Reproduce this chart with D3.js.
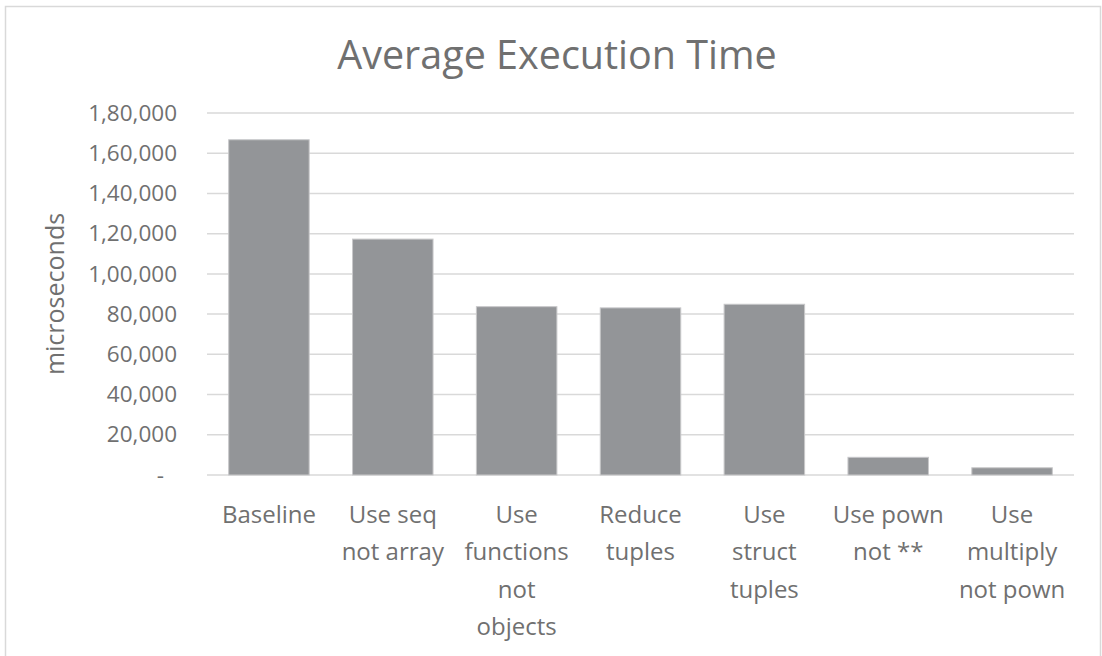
<!DOCTYPE html>
<html>
<head>
<meta charset="utf-8">
<script src="https://cdn.jsdelivr.net/npm/d3@7"></script>
<style>
  body { margin: 0; background: #fff; }
  svg { display: block; }
</style>
</head>
<body>
<div id="chart"></div>
<script>
// Data
var categories = ["Baseline", "Use seq\nnot array", "Use\nfunctions\nnot\nobjects", "Reduce\ntuples",
                  "Use\nstruct\ntuples", "Use pown\nnot **", "Use\nmultiply\nnot pown"];
var values = [166700, 117300, 83700, 83100, 84900, 8800, 3600];
var yTicks = [0, 20000, 40000, 60000, 80000, 100000, 120000, 140000, 160000, 180000];
var yTickLabels = ["-", "20,000", "40,000", "60,000", "80,000", "1,00,000", "1,20,000", "1,40,000", "1,60,000", "1,80,000"];

var W = 1102, H = 656,
    font_family = "'Open Sans', 'Noto Sans', sans-serif",
    text_color = "#707070",
    grid_color = "#d9d9d9",
    bar_color = "#939598";

var margin = {top: 113, right: 28, bottom: 181, left: 207},
    width = W - margin.left - margin.right,
    height = H - margin.top - margin.bottom;

var xScale = d3.scaleBand()
    .domain(categories)
    .range([0, width])
    .paddingInner(0.35)
    .paddingOuter(0.175);

var yScale = d3.scaleLinear()
    .domain([0, 180000])
    .range([height, 0]);

var svg = d3.select("#chart").append("svg")
    .attr("width", W)
    .attr("height", H);

// Outer border
svg.append("rect")
    .attr("x", 5.5).attr("y", 6.5)
    .attr("width", W - 7).attr("height", H)
    .attr("fill", "none")
    .attr("stroke", grid_color)
    .attr("stroke-width", 1.5);

// Title
svg.append("text")
    .attr("x", 557)
    .attr("y", 69)
    .attr("text-anchor", "middle")
    .attr("font-family", font_family)
    .attr("font-size", "39.5px")
    .attr("fill", text_color)
    .text("Average Execution Time");

var g = svg.append("g")
    .attr("transform", "translate(" + margin.left + "," + margin.top + ")");

// Gridlines
g.append("g")
  .selectAll("line")
  .data(yTicks)
  .enter().append("line")
    .attr("x1", 0)
    .attr("x2", width)
    .attr("y1", function(d) { return yScale(d); })
    .attr("y2", function(d) { return yScale(d); })
    .attr("stroke", grid_color)
    .attr("stroke-width", 1.5);

// Y axis labels
var yAxis = g.append("g")
    .call(d3.axisLeft(yScale)
      .tickValues(yTicks)
      .tickSize(0)
      .tickPadding(30)
      .tickFormat(function(d, i) { return yTickLabels[i]; }));
yAxis.select(".domain").remove();
yAxis.selectAll("text")
    .attr("font-family", font_family)
    .attr("font-size", "22.5px")
    .attr("fill", text_color)
    .attr("dx", function(d) { return d === 0 ? "-13px" : 0; });

// Y axis title
g.append("text")
    .attr("transform", "translate(" + (-143) + "," + (181) + ") rotate(-90)")
    .attr("text-anchor", "middle")
    .attr("font-family", font_family)
    .attr("font-size", "25px")
    .attr("fill", text_color)
    .text("microseconds");

// Bars
g.append("g")
  .selectAll("rect")
  .data(values)
  .enter().append("rect")
    .attr("x", function(d, i) { return xScale(categories[i]); })
    .attr("y", function(d) { return yScale(d); })
    .attr("width", xScale.bandwidth())
    .attr("height", function(d) { return yScale(0) - yScale(d); })
    .attr("fill", bar_color)
    .attr("stroke", "#c8c8ca")
    .attr("stroke-width", 1);

// X labels
var xLabels = g.append("g")
  .selectAll("text")
  .data(categories)
  .enter().append("text")
    .attr("x", function(d) { return xScale(d) + xScale.bandwidth() / 2; })
    .attr("y", height + 48)
    .attr("text-anchor", "middle")
    .attr("font-family", font_family)
    .attr("font-size", "24px")
    .attr("fill", text_color);

xLabels.selectAll("tspan")
  .data(function(d) { return d.split("\n"); })
  .enter().append("tspan")
    .attr("x", function() { return d3.select(this.parentNode).attr("x"); })
    .attr("dy", function(d, i) { return i === 0 ? 0 : 37.3; })
    .text(function(d) { return d; });
</script>
</body>
</html>
